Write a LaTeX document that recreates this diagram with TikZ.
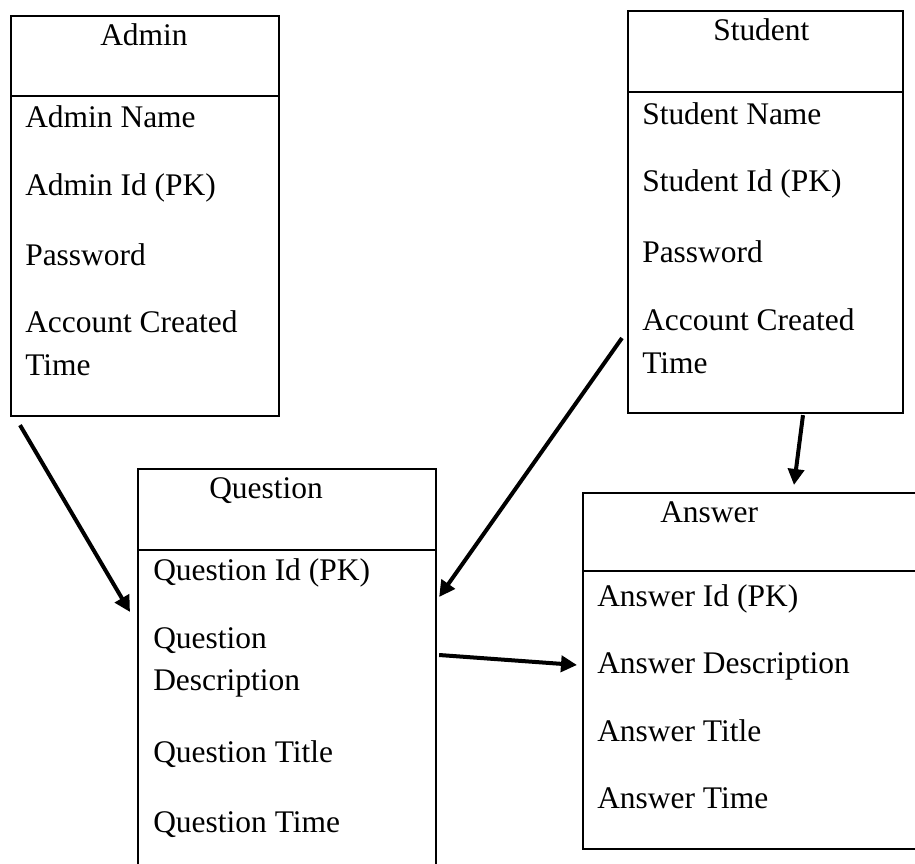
\documentclass[tikz,border=0pt]{standalone}
\usepackage{fontspec}
\setmainfont{Liberation Serif}
\usepackage{tikz}
\usetikzlibrary{arrows.meta}

\begin{document}
\begin{tikzpicture}[x=0.75pt,y=-0.75pt,
	entity/.style={draw, line width=1.6pt, inner sep=0pt, anchor=north west},
	attr/.style={anchor=base west, inner sep=0pt, font=\fontsize{23.6}{28}\selectfont},
	link/.style={line width=3pt, -{Triangle[length=12pt,width=12pt]}}]
	\fill[white] (0,0) rectangle (915,864);
	\useasboundingbox (0,0) rectangle (915,864);
	\clip (0,0) rectangle (915,864);
	% tables
	\node[entity, minimum width=201pt, minimum height=300pt] (admin) at (10,15) {};
	\node[entity, minimum width=206.25pt, minimum height=301.5pt] (student) at (627,10) {};
	\node[entity, minimum width=223.5pt, minimum height=301.5pt] (question) at (137,468) {};
	\node[entity, minimum width=253.5pt, minimum height=267pt] (answer) at (582,492) {};
	\draw[line width=1.6pt] ([shift={(0,81)}]admin.north west) -- ([shift={(0,81)}]admin.north east);
	\draw[line width=1.6pt] ([shift={(0,82)}]student.north west) -- ([shift={(0,82)}]student.north east);
	\draw[line width=1.6pt] ([shift={(0,82)}]question.north west) -- ([shift={(0,82)}]question.north east);
	\draw[line width=1.6pt] ([shift={(0,79)}]answer.north west) -- ([shift={(0,79)}]answer.north east);
	% admin
	\node[attr] (adminTitle) at (100,45) {Admin};
	\node[attr] (adminName) at (25,127) {Admin Name};
	\node[attr] (adminId) at (25,195) {Admin Id (PK)};
	\node[attr] (adminPwd) at (25,265) {Password};
	\node[attr] (adminAcc) at (25,332) {Account Created};
	\node[attr] (adminTime) at (25,375) {Time};
	% student
	\node[attr] (studentTitle) at (713,40) {Student};
	\node[attr] (studentName) at (642,124) {Student Name};
	\node[attr] (studentId) at (642,191) {Student Id (PK)};
	\node[attr] (studentPwd) at (642,262) {Password};
	\node[attr] (studentAcc) at (642,330) {Account Created};
	\node[attr] (studentTime) at (642,373) {Time};
	% question
	\node[attr] (questionTitle) at (209,498) {Question};
	\node[attr] (questionId) at (153,580) {Question Id (PK)};
	\node[attr] (questionDesc) at (153,648) {Question};
	\node[attr] (questionDescB) at (153,690) {Description};
	\node[attr] (questionHead) at (153,762) {Question Title};
	\node[attr] (questionTime) at (153,832) {Question Time};
	% answer
	\node[attr] (answerTitle) at (660,522) {Answer};
	\node[attr] (answerId) at (597,606) {Answer Id (PK)};
	\node[attr] (answerDesc) at (597,673) {Answer Description};
	\node[attr] (answerHead) at (597,741) {Answer Title};
	\node[attr] (answerTime) at (597,808) {Answer Time};
	% links
	\draw[link] ([shift={(10,8)}]admin.south west) -- ([shift={(-7,144)}]question.north west);
	\draw[link] ([shift={(-5,328)}]student.north west) -- ([shift={(2,129)}]question.north east);
	\draw[link] ([shift={(176,1)}]student.south west) -- ([shift={(212,-7)}]answer.north west);
	\draw[link] ([shift={(2,187)}]question.north east) -- ([shift={(-5,173)}]answer.north west);
\end{tikzpicture}
\end{document}
